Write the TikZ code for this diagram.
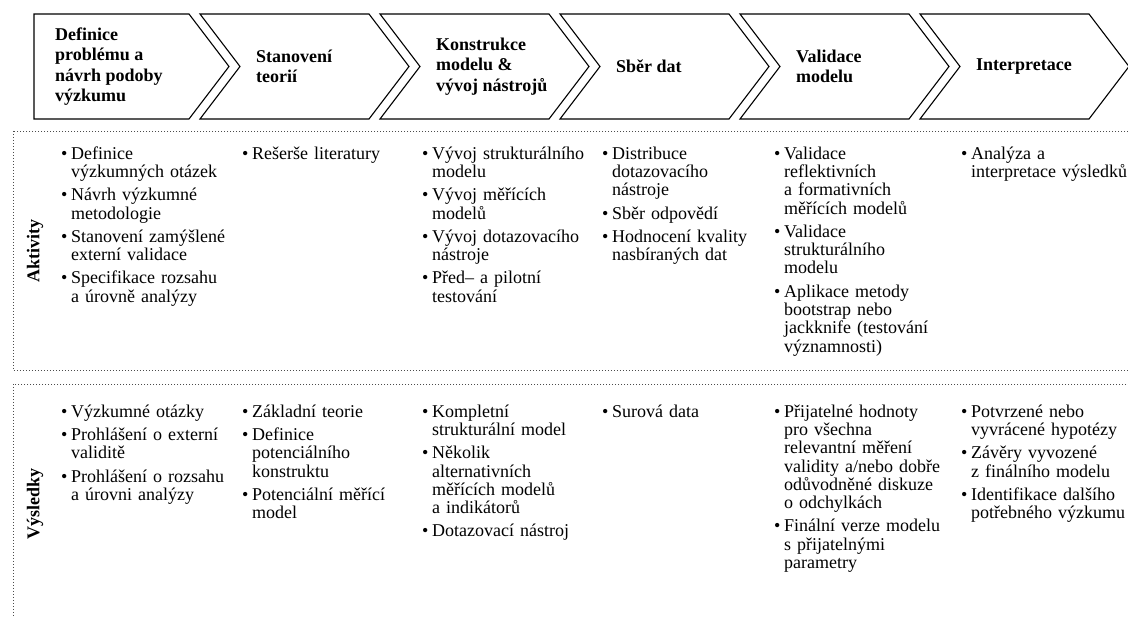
\documentclass[tikz,border=0pt]{standalone}
\usepackage{fontspec}
\setmainfont{Liberation Serif}
\setlength{\lineskiplimit}{-20pt}
% one bullet item, \\ breaks inside keep the hanging indent
\newcommand{\bul}[1]{{\let\\\newline\hangindent=10pt\hangafter=1\noindent
  \hbox to 10pt{\rule{0pt}{13pt}\textbullet\hfil}#1\par}\vspace{5pt}}
\tikzset{
  chev/.style={draw=black,line width=1.1pt,line join=miter},
  head/.style={anchor=west,align=left,inner sep=0pt,
    font=\fontsize{18}{20.5}\selectfont\bfseries},
  dotbox/.style={draw=black!70,line width=.8pt,dash pattern=on .8pt off 2.2pt},
  rowlab/.style={rotate=90,inner sep=0pt,font=\fontsize{18}{20}\selectfont\bfseries},
  col/.style={anchor=north west,text width=180pt,align=left,inner sep=0pt,
    font=\fontsize{18}{18.3}\selectfont}
}
\begin{document}
\begin{tikzpicture}[x=1pt,y=1pt]
  \useasboundingbox (0,0) rectangle (1128,-617);
  % process chevrons
  \draw[chev] (34,-14) -- (189,-14) -- (229,-66.5) -- (189,-119) -- (34,-119) -- cycle;
  \foreach \k in {1,...,5} {
    \pgfmathsetmacro\lx{200+180*(\k-1)}
    \pgfmathsetmacro\rx{189+180*\k}
    \draw[chev] (\lx,-14) -- (\rx,-14) -- (\rx+40,-66.5) -- (\rx,-119)
      -- (\lx,-119) -- (\lx+40,-66.5) -- cycle;
  }
  \node[head] (h1) at (55,-66.5) {Definice\\problému a\\návrh podoby\\výzkumu};
  \node[head] (h2) at (256,-66.5) {Stanovení\\teorií};
  \node[head] (h3) at (436,-66.5) {Konstrukce\\modelu \&\\vývoj nástrojů};
  \node[head] (h4) at (616,-66.5) {Sběr dat};
  \node[head] (h5) at (796,-66.5) {Validace\\modelu};
  \node[head] (h6) at (976,-66.5) {Interpretace};
  % rows
  \draw[dotbox] (13,-131) rectangle (1140,-370);
  \draw[dotbox] (13,-384) rectangle (1140,-640);
  \node[rowlab] (akt) at (35,-251) {Aktivity};
  \node[rowlab] (vys) at (35,-504) {Výsledky};
  % activities
  \node[col] (a1) at (61,-146) {\bul{Definice\\výzkumných otázek}\bul{Návrh výzkumné\\metodologie}%
    \bul{Stanovení zamýšlené\\externí validace}\bul{Specifikace rozsahu\\a úrovně analýzy}};
  \node[col] (a2) at (242,-146) {\bul{Rešerše literatury}};
  \node[col] (a3) at (422,-146) {\bul{Vývoj strukturálního\\modelu}\bul{Vývoj měřících\\modelů}%
    \bul{Vývoj dotazovacího\\nástroje}\bul{Před– a pilotní\\testování}};
  \node[col] (a4) at (602,-146) {\bul{Distribuce\\dotazovacího\\nástroje}\bul{Sběr odpovědí}%
    \bul{Hodnocení kvality\\nasbíraných dat}};
  \node[col] (a5) at (774,-146) {\bul{Validace\\reflektivních\\a formativních\\měřících modelů}%
    \bul{Validace\\strukturálního\\modelu}%
    \bul{Aplikace metody\\bootstrap nebo\\jackknife (testování\\významnosti)}};
  \node[col] (a6) at (961,-146) {\bul{Analýza a\\interpretace výsledků}};
  % results
  \node[col] (v1) at (61,-404) {\bul{Výzkumné otázky}\bul{Prohlášení o externí\\validitě}%
    \bul{Prohlášení o rozsahu\\a úrovni analýzy}};
  \node[col] (v2) at (242,-404) {\bul{Základní teorie}\bul{Definice\\potenciálního\\konstruktu}%
    \bul{Potenciální měřící\\model}};
  \node[col] (v3) at (422,-404) {\bul{Kompletní\\strukturální model}%
    \bul{Několik\\alternativních\\měřících modelů\\a indikátorů}\bul{Dotazovací nástroj}};
  \node[col] (v4) at (602,-404) {\bul{Surová data}};
  \node[col] (v5) at (774,-404) {\bul{Přijatelné hodnoty\\pro všechna\\relevantní měření\\validity a/nebo dobře\\odůvodněné diskuze\\o odchylkách}%
    \bul{Finální verze modelu\\s přijatelnými\\parametry}};
  \node[col] (v6) at (961,-404) {\bul{Potvrzené nebo\\vyvrácené hypotézy}\bul{Závěry vyvozené\\z finálního modelu}%
    \bul{Identifikace dalšího\\potřebného výzkumu}};
\end{tikzpicture}
\end{document}
